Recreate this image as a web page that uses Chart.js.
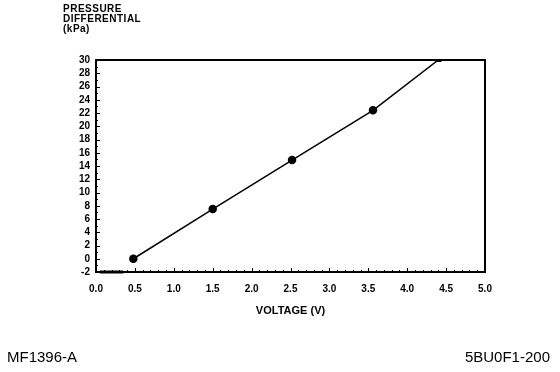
<!DOCTYPE html>
<html>
<head>
  <script src="https://cdn.jsdelivr.net/npm/chart.js"></script>
  <style>
    body { margin: 0; padding: 0; background: #fff; }
    #wrap { position: relative; width: 560px; height: 372px; }
    canvas { position: absolute; left: 0; top: 0; }
    .lbl { position: absolute; font-family: "Liberation Sans", Arial, sans-serif; color: #000; }
    #ytitle { left: 63px; top: 4px; font-size: 10px; font-weight: bold; line-height: 10px; letter-spacing: 0.5px; }
    #left { left: 7px; top: 348px; font-size: 15px; }
    #right { right: 10px; top: 348px; font-size: 15px; }
  </style>
</head>
<body>
  <div id="wrap">
    <canvas id="pressureChart" width="560" height="372"></canvas>
    <div class="lbl" id="ytitle">PRESSURE<br>DIFFERENTIAL<br>(kPa)</div>
    <div class="lbl" id="left">MF1396-A</div>
    <div class="lbl" id="right">5BU0F1-200</div>
  </div>

  <script>
    // values
    const voltage = [0.48, 1.5, 2.52, 3.56, 4.4];
    const pressure = [0, 7.5, 14.9, 22.4, 30];
    const baseX = [0.05, 0.35];
    const baseY = [-2, -2];
    const xTicks = ['0.0', '0.5', '1.0', '1.5', '2.0', '2.5', '3.0', '3.5', '4.0', '4.5', '5.0'];
    const yTicks = [-2, 0, 2, 4, 6, 8, 10, 12, 14, 16, 18, 20, 22, 24, 26, 28, 30];

    const tickFont = { family: "Liberation Sans", size: 10, weight: 'bold' };

    // frame + inward tick marks
    const framePlugin = {
      id: 'frame',
      afterDraw(chart) {
        const { ctx, chartArea: a, scales } = chart;
        ctx.save();
        ctx.strokeStyle = '#000';
        ctx.lineWidth = 2;
        ctx.strokeRect(a.left, a.top, a.right - a.left, a.bottom - a.top);
        ctx.lineWidth = 1;
        ctx.beginPath();
        for (let i = 0; i <= 50; i++) {
          const px = Math.round(scales.x.getPixelForValue(i / 10)) + 0.5;
          const len = i % 5 === 0 ? 4 : 2;
          ctx.moveTo(px, a.bottom); ctx.lineTo(px, a.bottom - len);
        }
        for (let v = -2; v <= 30; v++) {
          const py = Math.round(scales.y.getPixelForValue(v)) + 0.5;
          const len = v % 2 === 0 ? 4 : 2;
          ctx.moveTo(a.left, py); ctx.lineTo(a.left + len, py);
        }
        ctx.stroke();
        ctx.restore();
      }
    };

    new Chart(document.getElementById('pressureChart'), {
      type: 'scatter',
      data: {
        datasets: [{
          data: voltage.map((v, i) => ({ x: v, y: pressure[i] })),
          showLine: true,
          borderColor: '#000',
          backgroundColor: '#000',
          borderWidth: 1.5,
          pointRadius: [3.5, 3.5, 3.5, 3.5, 2.5],
          pointStyle: ['circle', 'circle', 'circle', 'circle', 'triangle']
        }, {
          data: baseX.map((v, i) => ({ x: v, y: baseY[i] })),
          showLine: true,
          clip: false,
          borderColor: '#000',
          borderWidth: 3,
          pointRadius: 0
        }]
      },
      options: {
        responsive: false,
        animation: false,
        layout: { padding: { left: 0, top: 60, right: 75, bottom: 50 } },
        plugins: { legend: { display: false }, tooltip: { enabled: false } },
        scales: {
          x: {
            type: 'linear', min: 0, max: 5,
            afterBuildTicks(s) { s.ticks = xTicks.map(t => ({ value: parseFloat(t) })); },
            afterFit(s) { s.height = 50; },
            grid: { display: false, drawTicks: false },
            border: { display: false },
            ticks: {
              color: '#000', font: tickFont, padding: 11, maxRotation: 0, autoSkip: false,
              callback: (v, i) => xTicks[i]
            },
            title: {
              display: true, text: 'VOLTAGE (V)', color: '#000',
              font: { family: "Liberation Sans", size: 11, weight: 'bold' },
              padding: { top: 6 }
            }
          },
          y: {
            type: 'linear', min: -2, max: 30,
            afterBuildTicks(s) { s.ticks = yTicks.map(v => ({ value: v })); },
            afterFit(s) { s.width = 96; },
            grid: { display: false, drawTicks: false },
            border: { display: false },
            ticks: { color: '#000', font: tickFont, padding: 6, autoSkip: false }
          }
        }
      },
      plugins: [framePlugin]
    });
  </script>
</body>
</html>
